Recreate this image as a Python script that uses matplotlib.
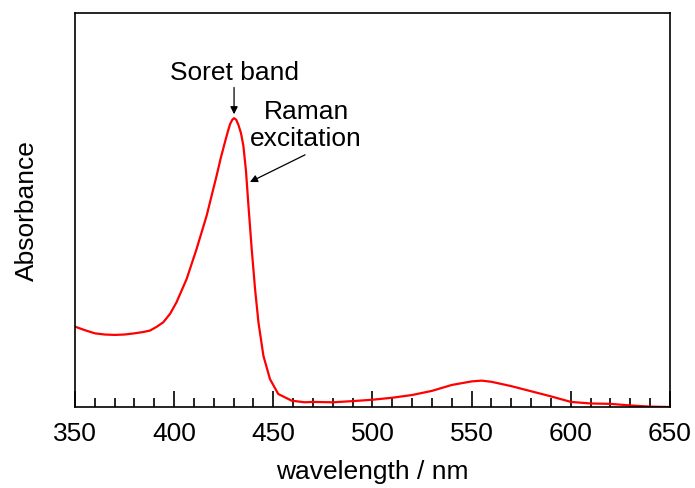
import matplotlib
matplotlib.use("Agg")
import matplotlib.pyplot as plt
from matplotlib.ticker import MultipleLocator

plt.rcParams['font.family'] = ['Liberation Sans', 'DejaVu Sans']

# UV-vis absorption spectrum (arbitrary absorbance units)
wavelength = [350, 355, 360, 365, 370, 375, 380, 384, 387.8, 391, 394.5, 398, 401.2,
              406.3, 411.3, 416.4, 421.4, 423.5, 425.6, 427, 428.2, 429.3, 430.2,
              431.3, 432.4, 433.7, 434.9, 436.2, 437.4, 439.1, 440.8, 442.5, 445.0,
              448.3, 452.5, 459.3, 466, 470, 480, 490, 500, 510, 520, 530, 540,
              550, 555, 560, 570, 580, 590, 600, 610, 620, 630, 640, 650]
absorbance = [0.204, 0.195, 0.187, 0.184, 0.183, 0.184, 0.187, 0.190, 0.194, 0.203,
              0.215, 0.237, 0.266, 0.325, 0.401, 0.486, 0.587, 0.632, 0.672, 0.698,
              0.718, 0.729, 0.733, 0.729, 0.716, 0.695, 0.663, 0.600, 0.515, 0.401,
              0.299, 0.215, 0.130, 0.071, 0.033, 0.016, 0.012, 0.013, 0.012, 0.015,
              0.0185, 0.0236, 0.0305, 0.041, 0.056, 0.065, 0.067, 0.064, 0.053,
              0.040, 0.027, 0.013, 0.009, 0.008, 0.004, 0.001, 0.0]

soret_peak = (430.2, 0.733)
raman_point = (438.2, 0.571)

fig = plt.figure(figsize=(6.95, 4.89), dpi=100)
ax = fig.add_axes([0.1079, 0.1656, 0.8561, 0.8058])

ax.plot(wavelength, absorbance, color='#ff0000', lw=1.6)

ax.set_xlim(350, 650)
ax.set_ylim(0, 1.0)
ax.xaxis.set_major_locator(MultipleLocator(50))
ax.xaxis.set_minor_locator(MultipleLocator(10))
ax.tick_params(axis='x', which='major', direction='in', length=11.5, width=1.2,
               labelsize=19, pad=10)
ax.tick_params(axis='x', which='minor', direction='in', length=6.2, width=1.2)
ax.tick_params(axis='y', which='both', left=False, labelleft=False)
for s in ax.spines.values():
    s.set_linewidth(1.2)

ax.set_xlabel('wavelength / nm', fontsize=19, labelpad=10)
ax.set_ylabel('Absorbance', fontsize=19, labelpad=26)

# Soret band label with a short downward arrow to the peak
ax.text(soret_peak[0], 0.850, 'Soret band', ha='center', va='center', fontsize=19)
ax.annotate('', xy=(soret_peak[0], soret_peak[1] + 0.01), xytext=(soret_peak[0], 0.811),
            arrowprops=dict(arrowstyle='-|>', color='black', lw=0.9,
                            mutation_scale=11, shrinkA=0, shrinkB=0))

# Raman excitation label with a diagonal arrow to the falling edge
ax.text(466.5, 0.717, 'Raman\nexcitation', ha='center', va='center', fontsize=19,
        linespacing=1.2)
ax.annotate('', xy=raman_point, xytext=(466, 0.640),
            arrowprops=dict(arrowstyle='-|>', color='black', lw=0.9,
                            mutation_scale=11, shrinkA=0, shrinkB=0))

fig.savefig('out.png', dpi=100)
